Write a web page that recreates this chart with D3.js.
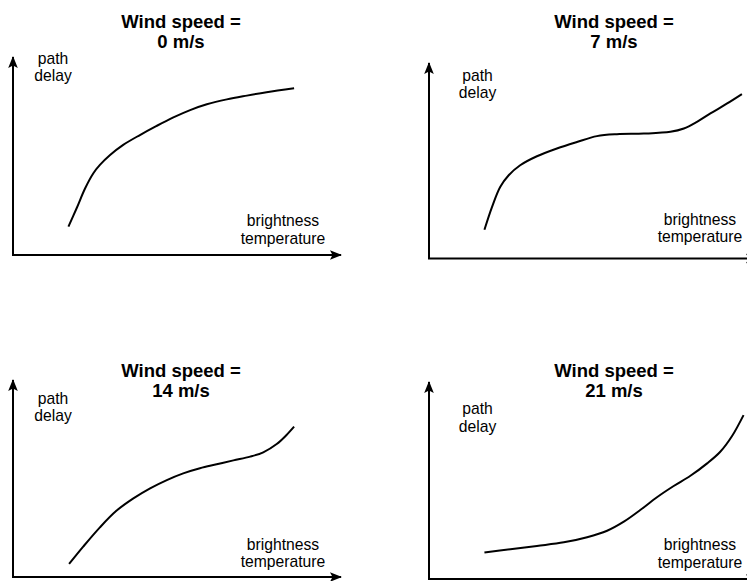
<!DOCTYPE html>
<html>
<head>
<meta charset="utf-8">
<script src="https://cdn.jsdelivr.net/npm/d3@7"></script>
<style>
  html, body { margin: 0; padding: 0; background: #fff; }
  svg { display: block; }
  text { font-family: "Liberation Sans", Arial, Helvetica, sans-serif; fill: #000; }
</style>
</head>
<body>
<svg id="chart" width="747" height="581"></svg>
<script>
// ---- data (normalised units: 0..100 on both axes) ----
const windSpeeds = [0, 7, 14, 21];
const xLabel = ["brightness", "temperature"];
const yLabel = ["path", "delay"];

const curve0x = [16.9, 19.4, 22.0, 24.5, 26.5, 29.6, 33.6, 38.7, 43.8, 48.9, 54.0, 59.1, 65.2, 71.3, 77.3, 85.7];
const curve0y = [14.3, 23.6, 33.7, 41.3, 45.5, 50.5, 55.6, 60.6, 65.2, 69.5, 73.2, 76.1, 78.6, 80.5, 82.2, 84.2];

const curve7x = [16.9, 19.2, 21.7, 24.3, 27.8, 32.9, 39.0, 45.1, 51.2, 57.3, 65.5, 73.6, 77.7, 81.7, 85.8, 90.9, 95.4];
const curve7y = [14.7, 26.3, 36.6, 42.6, 47.7, 52.3, 56.3, 59.6, 62.6, 63.6, 63.9, 64.8, 66.5, 69.9, 74.2, 79.3, 84.1];

const curve14x = [17.1, 21.4, 26.5, 31.6, 36.7, 41.8, 46.9, 51.9, 57.0, 62.1, 67.2, 72.3, 76.3, 80.4, 83.4, 85.7];
const curve14y = [6.6, 15.4, 25.2, 33.7, 39.9, 45.0, 49.2, 52.6, 55.2, 57.2, 59.2, 61.1, 63.3, 67.5, 72.1, 76.3];

const curve21x = [16.9, 24.8, 32.9, 41.1, 48.2, 54.3, 59.4, 64.4, 69.5, 74.6, 79.7, 84.8, 88.8, 92.4, 95.9];
const curve21y = [13.4, 15.1, 16.8, 18.6, 21.2, 24.5, 29.1, 35.0, 41.5, 47.2, 52.4, 58.7, 64.6, 72.6, 83.2];

const curvesX = [curve0x, curve7x, curve14x, curve21x];
const curvesY = [curve0y, curve7y, curve14y, curve21y];

// ---- layout (positions only) ----
const panels = [
  { x0: 13,  x1: 341, yB: 255,   yT: 57,  titleX: 181, titleY: 27.7, pathX: 53,    pathY: 63.5,  btX: 283, btY: 226 },
  { x0: 429, x1: 757, yB: 258.5, yT: 63,  titleX: 614, titleY: 27.7, pathX: 477.5, pathY: 80.5,  btX: 700, btY: 224.5 },
  { x0: 13,  x1: 341, yB: 577,   yT: 380, titleX: 181, titleY: 377.3, pathX: 53,   pathY: 403.5, btX: 283, btY: 549.5 },
  { x0: 429, x1: 757, yB: 579,   yT: 382, titleX: 614, titleY: 377.3, pathX: 477.5, pathY: 414,  btX: 700, btY: 550 }
];

const svg = d3.select("#chart");
svg.append("rect").attr("width", 747).attr("height", 581).attr("fill", "#fff");

const defs = svg.append("defs");
defs.append("marker")
  .attr("id", "arrow")
  .attr("viewBox", "-12 -6 14 12")
  .attr("refX", 0).attr("refY", 0)
  .attr("markerWidth", 14).attr("markerHeight", 12)
  .attr("markerUnits", "userSpaceOnUse")
  .attr("orient", "auto")
  .append("path")
  .attr("d", "M1,0 L-11,-4.8 L-8.5,0 L-11,4.8 Z")
  .attr("fill", "#000");

const line = d3.line().curve(d3.curveCatmullRom.alpha(0.5));

panels.forEach((p, i) => {
  const x = d3.scaleLinear().domain([0, 100]).range([p.x0, p.x1]);
  const y = d3.scaleLinear().domain([0, 100]).range([p.yB, p.yT]);
  const g = svg.append("g");

  // axes
  g.append("line")
    .attr("x1", x(0)).attr("y1", y(0)).attr("x2", x(0)).attr("y2", y(100))
    .attr("stroke", "#000").attr("stroke-width", 2)
    .attr("marker-end", "url(#arrow)");
  g.append("line")
    .attr("x1", x(0) - 1).attr("y1", y(0)).attr("x2", x(100)).attr("y2", y(0))
    .attr("stroke", "#000").attr("stroke-width", 2)
    .attr("marker-end", "url(#arrow)");

  // curve
  const pts = curvesX[i].map((v, k) => [x(v), y(curvesY[i][k])]);
  g.append("path")
    .attr("d", line(pts))
    .attr("fill", "none")
    .attr("stroke", "#000")
    .attr("stroke-width", 2)
    .attr("stroke-linecap", "butt");

  // title
  const t = g.append("text")
    .attr("text-anchor", "middle")
    .attr("font-weight", "bold")
    .attr("font-size", "18.5px");
  t.append("tspan").attr("x", p.titleX).attr("y", p.titleY).text("Wind speed =");
  t.append("tspan").attr("x", p.titleX).attr("y", p.titleY + 20).text(windSpeeds[i] + " m/s");

  // y label
  const yl = g.append("text").attr("text-anchor", "middle").attr("font-size", "15.7px");
  yLabel.forEach((s, k) => yl.append("tspan").attr("x", p.pathX).attr("y", p.pathY + k * 17.5).text(s));

  // x label
  const xl = g.append("text").attr("text-anchor", "middle").attr("font-size", "15.7px");
  xLabel.forEach((s, k) => xl.append("tspan").attr("x", p.btX).attr("y", p.btY + k * 17.5).text(s));
});
</script>
</body>
</html>
